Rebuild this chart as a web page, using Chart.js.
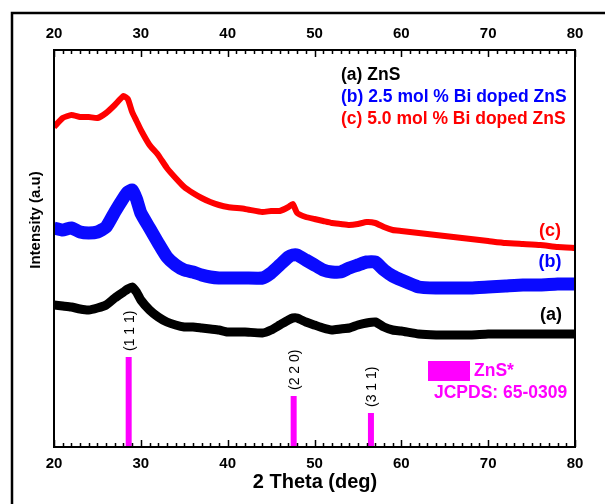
<!DOCTYPE html>
<html>
<head>
<meta charset="utf-8">
<script src="https://cdn.jsdelivr.net/npm/chart.js@4.4.1/dist/chart.umd.min.js"></script>
<style>
  html, body { margin: 0; padding: 0; background: #fff; }
  #wrap { width: 605px; height: 504px; }
</style>
</head>
<body>
<div id="wrap"><canvas id="xrd"></canvas></div>
<script>
// 2 theta positions where the patterns were read (deg)
const theta = [20, 21, 22, 23, 24, 25, 26, 27, 28, 28.5, 29, 29.5, 30, 31, 32, 33, 34, 35, 36, 37, 38, 39, 40,
  42, 44, 45, 46, 47, 47.5, 48, 49, 50, 51, 52, 53, 54, 55, 56, 57, 58, 59, 60, 62, 64, 66, 68, 70, 72, 74, 76, 78, 80];

// (a) ZnS
const pureZnS = [142, 141, 140, 138, 137, 139, 142, 149, 155, 158, 160, 155, 147, 137, 130, 125, 122, 120, 120, 119, 118, 117, 115,
  115, 114, 117, 122, 127, 129, 129, 125, 122, 119, 117, 118, 119, 122, 124, 125, 120, 117, 116, 113, 112, 112, 112, 113, 113, 113, 113, 113, 113];

// (b) 2.5 mol % Bi doped ZnS
const bi25 = [219, 217, 219, 215, 214, 215, 220, 235, 249, 255, 257, 248, 234, 219, 204, 190, 182, 177, 175, 172, 170, 169, 169,
  169, 169, 174, 182, 190, 192, 192, 187, 182, 177, 175, 175, 179, 182, 185, 185, 177, 171, 167, 160, 159, 159, 159, 160, 161, 162, 162, 163, 163];

// (c) 5.0 mol % Bi doped ZnS
const bi50 = [320, 329, 332, 330, 330, 329, 334, 342, 351, 348, 335, 326, 317, 302, 292, 279, 269, 260, 254, 249, 245, 242, 240,
  238, 235, 236, 236, 240, 243, 234, 230, 228, 226, 224, 223, 222, 223, 225, 224, 220, 217, 216, 214, 212, 210, 208, 206, 204, 203, 202, 200, 199];

// JCPDS 65-0309 reference lines
const stickTheta = [28.6, 47.6, 56.5];
const stickIntensity = [90, 51, 34];
const stickLabels = ['(1 1 1)', '(2 2 0)', '(3 1 1)'];

const xTicks = [20, 30, 40, 50, 60, 70, 80];

const FONT = '"Liberation Sans", Arial, sans-serif';
const MAGENTA = '#ff00ff';

function pts(vals) {
  return theta.map((t, i) => ({ x: t, y: vals[i] }));
}

const datasets = [];
stickTheta.forEach((t, i) => {
  datasets.push({
    data: [{ x: t, y: 0 }, { x: t, y: stickIntensity[i] }],
    borderColor: MAGENTA, borderWidth: 6, borderCapStyle: 'butt', pointRadius: 0
  });
});
// noisy patterns drawn as thick bands
[[pureZnS, '#000000', 9], [bi25, '#0a0aff', 13], [bi50, '#ff0000', 6]].forEach(([vals, col, w]) => {
  datasets.push({ data: pts(vals), borderColor: col, borderWidth: w, pointRadius: 0, tension: 0.15 });
});

const decor = {
  id: 'decor',
  beforeDraw(chart) {
    const c = chart.ctx;
    c.save();
    c.fillStyle = '#fff';
    c.fillRect(0, 0, chart.width, chart.height);
    c.restore();
  },
  afterDraw(chart) {
    const c = chart.ctx;
    const a = chart.chartArea;
    const xs = chart.scales.x;
    const ys = chart.scales.y;
    c.save();

    // outer frame
    c.strokeStyle = '#000';
    c.lineWidth = 2.5;
    c.beginPath();
    c.moveTo(12, chart.height + 5);
    c.lineTo(12, 13);
    c.lineTo(chart.width + 5, 13);
    c.stroke();

    // plot frame
    c.lineWidth = 2;
    c.strokeRect(a.left, a.top, a.right - a.left, a.bottom - a.top);

    // inward ticks, top and bottom
    c.lineWidth = 1.5;
    c.beginPath();
    for (let v = 20; v <= 80; v++) {
      const px = Math.round(xs.getPixelForValue(v)) + 0.5;
      const len = v % 10 === 0 ? 7 : 4;
      c.moveTo(px, a.bottom); c.lineTo(px, a.bottom - len);
      c.moveTo(px, a.top); c.lineTo(px, a.top + len);
    }
    c.stroke();

    // tick labels
    c.fillStyle = '#000';
    c.font = `bold 15px ${FONT}`;
    c.textAlign = 'center';
    c.textBaseline = 'middle';
    xTicks.forEach(v => {
      const px = xs.getPixelForValue(v);
      c.fillText(String(v), px, 464);
      c.fillText(String(v), px, 34);
    });

    // axis titles
    c.font = `bold 20px ${FONT}`;
    c.fillText('2 Theta (deg)', 315, 482);
    c.save();
    c.translate(36, 220);
    c.rotate(-Math.PI / 2);
    c.font = `bold 15px ${FONT}`;
    c.fillText('Intensity (a.u)', 0, 0);
    c.restore();

    // hkl labels
    c.font = `14px ${FONT}`;
    c.textAlign = 'left';
    stickTheta.forEach((t, i) => {
      c.save();
      c.translate(xs.getPixelForValue(t) + 1, ys.getPixelForValue(stickIntensity[i]) - 6);
      c.rotate(-Math.PI / 2);
      c.fillText(stickLabels[i], 0, 0);
      c.restore();
    });

    // legend
    c.font = `bold 17.5px ${FONT}`;
    c.textBaseline = 'middle';
    c.fillStyle = '#000'; c.fillText('(a) ZnS', 341, 75);
    c.fillStyle = '#0000ff'; c.fillText('(b) 2.5 mol % Bi doped ZnS', 341, 97);
    c.fillStyle = '#ff0000'; c.fillText('(c) 5.0 mol % Bi doped ZnS', 341, 119);

    // curve tags
    c.font = `bold 18px ${FONT}`;
    c.textAlign = 'center';
    c.fillStyle = '#ff0000'; c.fillText('(c)', 550, 231);
    c.fillStyle = '#0000ff'; c.fillText('(b)', 550, 262);
    c.fillStyle = '#000'; c.fillText('(a)', 551, 315);

    // reference legend
    c.fillStyle = MAGENTA;
    c.fillRect(428, 361, 42, 20);
    c.font = `bold 17.5px ${FONT}`;
    c.textAlign = 'left';
    c.fillText('ZnS*', 474, 371);
    c.fillText('JCPDS: 65-0309', 434, 393);

    c.restore();
  }
};

new Chart(document.getElementById('xrd'), {
  type: 'line',
  data: { datasets },
  options: {
    responsive: true,
    maintainAspectRatio: false,
    animation: false,
    events: [],
    layout: { padding: { left: 54, right: 30, top: 50, bottom: 57 } },
    plugins: { legend: { display: false }, tooltip: { enabled: false } },
    scales: {
      x: { type: 'linear', min: 20, max: 80, display: false },
      y: { min: 0, max: 397, display: false }
    }
  },
  plugins: [decor]
});
</script>
</body>
</html>
